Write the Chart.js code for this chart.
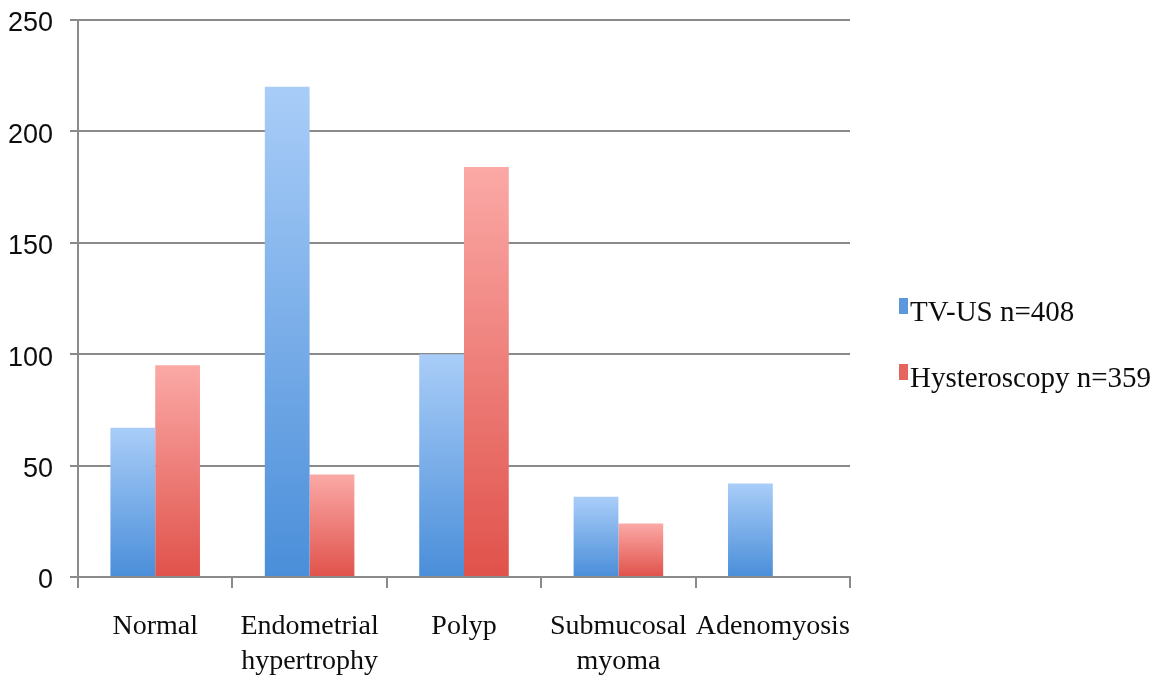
<!DOCTYPE html>
<html>
<head>
<meta charset="utf-8">
<script src="https://cdn.jsdelivr.net/npm/chart.js@4/dist/chart.umd.min.js"></script>
<style>
  html, body { margin: 0; padding: 0; background: #ffffff; }
  #wrap { width: 1160px; height: 688px; position: relative; }
</style>
</head>
<body>
<div id="wrap"><canvas id="chart"></canvas></div>
<script>
// Findings by diagnostic method
const categories = [
  'Normal',
  ['Endometrial', 'hypertrophy'],
  'Polyp',
  ['Submucosal', 'myoma'],
  'Adenomyosis'
];
const seriesNames = ['TV-US n=408', 'Hysteroscopy n=359'];
const tvusValues = [67, 220, 100, 36, 42];
const hysteroscopyValues = [95, 46, 184, 24, 0];
const yTicks = [0, 50, 100, 150, 200, 250];

const serifFont = "'Liberation Serif', 'Times New Roman', serif";
const sansFont = "'Liberation Sans', Arial, sans-serif";
const gridGray = '#8a8a8a';
const textColor = '#0d0d0d';

const palette = [
  { light: '#a9cdf8', dark: '#4a8ed9', key: '#5a97dc' },
  { light: '#fba9a6', dark: '#e0524b', key: '#e6645e' }
];

// Each bar fades from a pale top to a saturated base.
function barGradient(c) {
  return (ctx) => {
    if (ctx.type !== 'data') return c.key;
    const chart = ctx.chart;
    if (!chart.chartArea) return c.key;
    const y = chart.scales.y;
    const top = y.getPixelForValue(ctx.raw);
    const base = y.getPixelForValue(0);
    if (!(base > top)) return c.key;
    const g = chart.ctx.createLinearGradient(0, top, 0, base);
    g.addColorStop(0, c.light);
    g.addColorStop(1, c.dark);
    return g;
  };
}

// Compact legend on the right: small key box flush against its label.
const sideLegend = {
  id: 'sideLegend',
  afterDraw(chart) {
    const { ctx, chartArea } = chart;
    const rowGap = 66;
    const x0 = chartArea.right + 49;
    const firstBaseline = 321;
    ctx.save();
    ctx.font = "29px " + serifFont;
    ctx.textBaseline = 'alphabetic';
    ctx.textAlign = 'left';
    chart.data.datasets.forEach((ds, i) => {
      const baseline = firstBaseline + i * rowGap;
      ctx.fillStyle = palette[i].key;
      ctx.fillRect(x0, baseline - 23, 9, 16);
      ctx.fillStyle = textColor;
      ctx.fillText(ds.label, x0 + 11, baseline);
    });
    ctx.restore();
  }
};

new Chart(document.getElementById('chart'), {
  type: 'bar',
  data: {
    labels: categories,
    datasets: [
      {
        label: seriesNames[0],
        data: tvusValues,
        backgroundColor: barGradient(palette[0]),
        borderWidth: 0
      },
      {
        label: seriesNames[1],
        data: hysteroscopyValues,
        backgroundColor: barGradient(palette[1]),
        borderWidth: 0
      }
    ]
  },
  plugins: [sideLegend],
  options: {
    responsive: true,
    maintainAspectRatio: false,
    animation: false,
    devicePixelRatio: 1,
    datasets: {
      bar: { categoryPercentage: 0.58, barPercentage: 1.0 }
    },
    layout: { padding: { left: 0, top: 20, right: 310, bottom: 0 } },
    plugins: {
      tooltip: { enabled: false },
      legend: { display: false }
    },
    scales: {
      x: {
        afterFit: (axis) => {
          axis.height = 111;
          axis.paddingLeft = 0;
          axis.paddingRight = 0;
        },
        grid: {
          display: true,
          drawOnChartArea: false,
          drawTicks: true,
          tickLength: 11,
          color: gridGray,
          lineWidth: 2,
          offset: true
        },
        border: { display: true, color: gridGray, width: 2 },
        ticks: {
          color: textColor,
          padding: 21,
          maxRotation: 0,
          autoSkip: false,
          font: { family: serifFont, size: 28, lineHeight: 1.25 }
        }
      },
      y: {
        min: 0,
        max: 250,
        afterBuildTicks: (axis) => { axis.ticks = yTicks.map(v => ({ value: v })); },
        afterFit: (axis) => {
          axis.width = 78;
          axis.paddingTop = 0;
          axis.paddingBottom = 0;
        },
        grid: {
          color: gridGray,
          lineWidth: 2,
          drawTicks: true,
          tickLength: 8
        },
        border: { display: true, color: gridGray, width: 2 },
        ticks: {
          color: textColor,
          padding: 17,
          labelOffset: 4,
          font: { family: sansFont, size: 27 }
        }
      }
    }
  }
});
</script>
</body>
</html>
